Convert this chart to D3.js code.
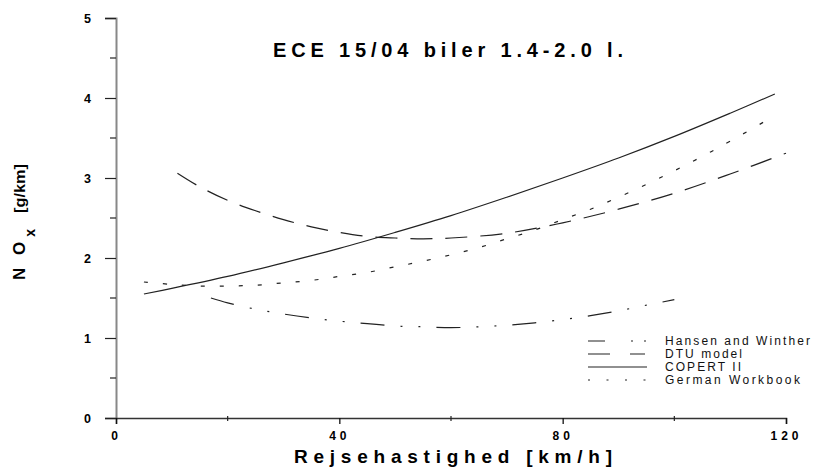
<!DOCTYPE html>
<html>
<head>
<meta charset="utf-8">
<script src="https://cdn.jsdelivr.net/npm/d3@7"></script>
<style>
  body { margin: 0; background: #fff; }
  svg { font-family: "Liberation Sans", Arial, sans-serif; }
</style>
</head>
<body>
<div id="chart"></div>
<script>
// data
var speedHansen = [17, 20, 25, 30, 35, 40, 45, 50, 55, 60, 65, 70, 75, 80, 85, 90, 95, 100];
var noxHansen = [1.50, 1.44, 1.36, 1.30, 1.25, 1.21, 1.18, 1.15, 1.14, 1.13, 1.14, 1.16, 1.19, 1.23, 1.28, 1.34, 1.41, 1.48];

var speedDtu = [11, 15, 20, 25, 30, 35, 40, 45, 50, 55, 60, 70, 80, 90, 100, 110, 120];
var noxDtu = [3.06, 2.89, 2.72, 2.59, 2.48, 2.39, 2.32, 2.27, 2.25, 2.24, 2.25, 2.31, 2.44, 2.61, 2.81, 3.05, 3.31];

var speedCopert = [5, 10, 20, 30, 40, 50, 60, 70, 80, 90, 100, 110, 118];
var noxCopert = [1.55, 1.62, 1.77, 1.94, 2.12, 2.32, 2.53, 2.76, 3.00, 3.25, 3.52, 3.81, 4.05];

var speedGerman = [5, 10, 15, 20, 25, 30, 35, 40, 45, 50, 55, 60, 65, 70, 75, 80, 85, 90, 95, 100, 105, 110, 118];
var noxGerman = [1.70, 1.67, 1.65, 1.65, 1.66, 1.69, 1.72, 1.77, 1.82, 1.89, 1.96, 2.04, 2.13, 2.24, 2.35, 2.48, 2.61, 2.76, 2.92, 3.09, 3.27, 3.46, 3.78];

var seriesNames = ["Hansen and Winther", "DTU model", "COPERT II", "German Workbook"];
var xTicks = [0, 40, 80, 120];
var xMinor = [20, 60, 100];
var yTicks = [0, 1, 2, 3, 4, 5];
var yMinor = [0.5, 1.5, 2.5, 3.5, 4.5];

var width = 816, height = 469;
var margin = { top: 18, right: 30, bottom: 51, left: 116 };

var svg = d3.select("#chart")
  .append("svg")
  .attr("width", width)
  .attr("height", height);

var x = d3.scaleLinear().domain([0, 120]).range([margin.left, 786]);
var y = d3.scaleLinear().domain([0, 5]).range([height - margin.bottom, margin.top]);

// y axis (grey line, ticks pointing left)
var yAxis = svg.append("g")
  .attr("transform", "translate(" + x(0) + ",0)")
  .call(d3.axisLeft(y).tickValues(yTicks).tickSize(11).tickPadding(14).tickFormat(d3.format("d")));
yAxis.select(".domain").attr("stroke", "#888").attr("stroke-width", 2);
yAxis.selectAll(".tick line").attr("stroke", "#222").attr("stroke-width", 1.2);
yAxis.selectAll("text")
  .attr("font-family", "Liberation Sans, Arial, sans-serif")
  .attr("font-size", 12.5).attr("font-weight", "bold").attr("fill", "#000");
yAxis.selectAll(".minor")
  .data(yMinor).enter().append("line")
  .attr("x1", -6).attr("x2", 0)
  .attr("y1", d => y(d)).attr("y2", d => y(d))
  .attr("stroke", "#222").attr("stroke-width", 1.2);

// x axis
var xAxis = svg.append("g")
  .attr("transform", "translate(0," + y(0) + ")")
  .call(d3.axisBottom(x).tickValues(xTicks).tickSize(6).tickPadding(7).tickFormat(d3.format("d")));
xAxis.select(".domain").attr("stroke", "#333").attr("stroke-width", 1.5);
xAxis.selectAll(".tick line").attr("stroke", "#111").attr("stroke-width", 1.3);
xAxis.selectAll("text")
  .attr("font-family", "Liberation Sans, Arial, sans-serif")
  .attr("font-size", 12).attr("font-weight", "bold").attr("fill", "#000")
  .style("letter-spacing", "4px");
xAxis.selectAll(".minor")
  .data(xMinor).enter().append("line")
  .attr("x1", d => x(d)).attr("x2", d => x(d))
  .attr("y1", -2).attr("y2", 3)
  .attr("stroke", "#222").attr("stroke-width", 1.2);

// curves
var line = d3.line()
  .x(d => x(d[0]))
  .y(d => y(d[1]))
  .curve(d3.curveCatmullRom);

var curves = [
  { xs: speedHansen, ys: noxHansen, dash: "24,16,2,16,2,16" },
  { xs: speedDtu, ys: noxDtu, dash: "22,13" },
  { xs: speedCopert, ys: noxCopert, dash: null },
  { xs: speedGerman, ys: noxGerman, dash: "4,15" }
];

curves.forEach(function(c) {
  var pts = c.xs.map((v, i) => [v, c.ys[i]]);
  svg.append("path")
    .datum(pts)
    .attr("fill", "none")
    .attr("stroke", "#222")
    .attr("stroke-width", 1.2)
    .attr("stroke-dasharray", c.dash)
    .attr("d", line);
});

// legend
var legendDash = ["17,26,2,11,2,50", "22,20,15,50", null, "2,16.5"];
var legendLen = [145, 77, 76, 135];
var legend = svg.append("g");
seriesNames.forEach(function(name, i) {
  var ly = 341 + i * 13;
  legend.append("line")
    .attr("x1", 588).attr("x2", 647)
    .attr("y1", ly).attr("y2", ly)
    .attr("stroke", "#222").attr("stroke-width", 1.2)
    .attr("stroke-dasharray", legendDash[i]);
  legend.append("text")
    .attr("x", 665).attr("y", ly + 4)
    .attr("font-size", 12)
    .attr("fill", "#111")
    .attr("textLength", legendLen[i])
    .attr("lengthAdjust", "spacing")
    .text(name);
});

// title
svg.append("text")
  .attr("x", 448).attr("y", 57)
  .attr("text-anchor", "middle")
  .attr("font-size", 20).attr("font-weight", "bold")
  .attr("textLength", 350).attr("lengthAdjust", "spacing")
  .text("ECE 15/04 biler 1.4-2.0 l.");

// x axis label
svg.append("text")
  .attr("x", 453).attr("y", 463)
  .attr("text-anchor", "middle")
  .attr("font-size", 19).attr("font-weight", "bold")
  .attr("textLength", 318).attr("lengthAdjust", "spacing")
  .text("Rejsehastighed [km/h]");

// y axis label: N O with subscript x, then unit
var yl = svg.append("text")
  .attr("transform", "translate(25,280) rotate(-90)")
  .attr("font-size", 17).attr("font-weight", "bold");
yl.append("tspan").text("N O").style("letter-spacing", "4px");
yl.append("tspan").attr("dx", 1).attr("dy", 10).attr("font-size", 14).text("x");
yl.append("tspan").attr("dx", 16).attr("dy", -10).attr("font-size", 15)
  .attr("textLength", 49).attr("lengthAdjust", "spacingAndGlyphs")
  .text("[g/km]");
</script>
</body>
</html>
